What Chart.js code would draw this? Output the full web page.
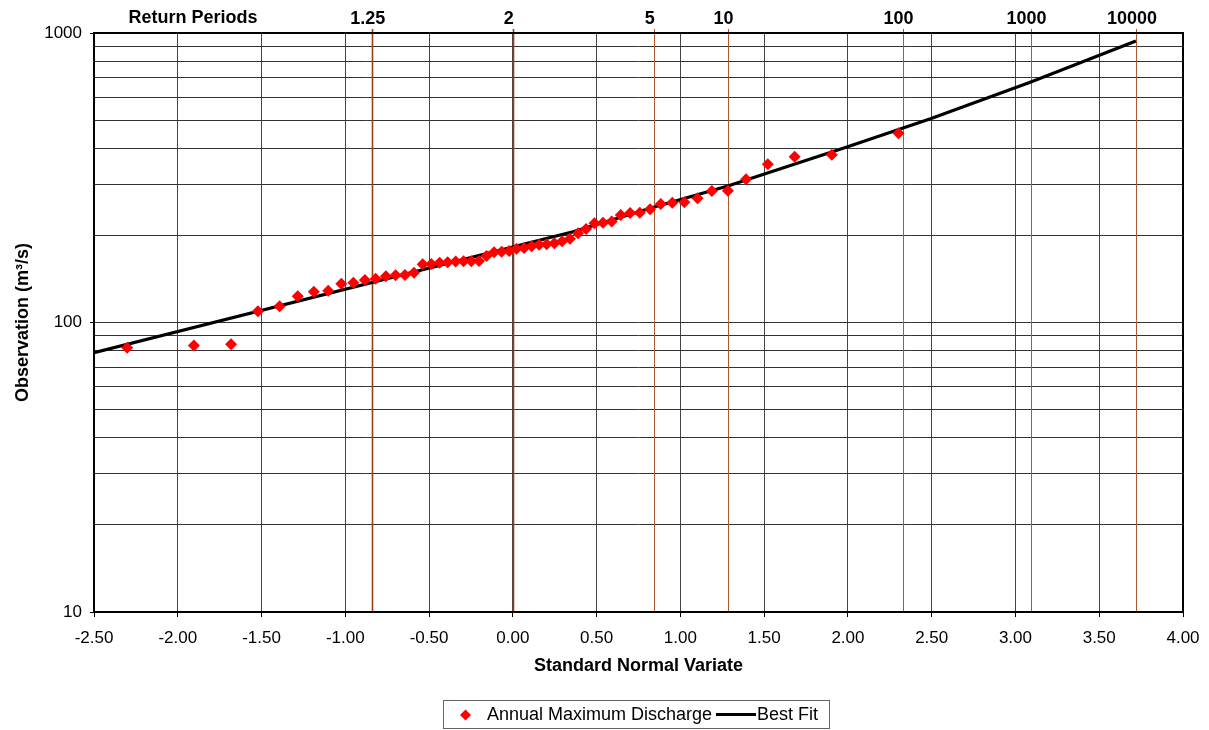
<!DOCTYPE html>
<html>
<head>
<meta charset="utf-8">
<script src="https://cdn.jsdelivr.net/npm/chart.js@4.4.0/dist/chart.umd.min.js"></script>
<style>
html,body{margin:0;padding:0;background:#fff;}
#wrap{width:1209px;height:730px;position:relative;}
</style>
</head>
<body>
<div id="wrap"><canvas id="c" width="1209" height="730"></canvas></div>
<script>
// ---- data ----
const seriesNames = ['Annual Maximum Discharge', 'Best Fit'];
const sampleZ = [-2.302,-1.904,-1.682,-1.522,-1.392,-1.284,-1.188,-1.102,-1.024,-0.952,-0.883,-0.819,-0.758,-0.700,-0.644,-0.590,-0.538,-0.487,-0.437,-0.389,-0.341,-0.294,-0.248,-0.202,-0.157,-0.112,-0.067,-0.022,
  0.022,0.067,0.112,0.157,0.202,0.248,0.294,0.341,0.389,0.437,0.487,0.538,0.590,0.644,0.700,0.758,0.819,0.883,0.952,1.024,1.102,1.188,1.284,1.392,1.522,1.682,1.904,2.302];
const sampleQ = [81.8,83.2,84.1,109.3,113.8,123.2,127.8,128.8,136.1,137.2,140.2,141.7,144.4,145.6,145.9,148.6,158.9,159.2,160.9,161.4,162.4,162.7,162.7,163.1,169.7,174.8,175.6,176.6,
  179.7,180.9,183.4,185.6,186.3,187.9,190.9,194.8,203.3,210.4,220.1,221.2,223.3,235.1,238.9,239.5,246.0,256.6,259.3,260.1,268.5,284.6,285.3,312.3,352.0,373.9,379.9,450.4];
const fitZ = [-2.5, 0.359, 0.84, 1.283, 1.994, 2.497, 3.088, 3.719];
const fitQ = [78.7, 205.9, 250.0, 296.1, 403.9, 506.6, 675.5, 938.0];
const returnPeriodLabels = ['1.25', '2', '5', '10', '100', '1000', '10000'];
const returnPeriodZ = [-0.8416, 0, 0.8416, 1.2816, 2.3263, 3.0902, 3.7190];
const xTickValues = [-2.5,-2,-1.5,-1,-0.5,0,0.5,1,1.5,2,2.5,3,3.5,4];
const yGridValues = [10,20,30,40,50,60,70,80,90,100,200,300,400,500,600,700,800,900,1000];
const yLabelValues = [10,100,1000];

const FONT = '"Liberation Sans", Arial, Helvetica, sans-serif';
Chart.defaults.font.family = FONT;
Chart.defaults.color = '#000';

const framePlugin = {
  id: 'frame',
  beforeDatasetsDraw(chart) {
    const {ctx, chartArea: a} = chart;
    const sx2 = chart.scales.x2;
    ctx.save();
    // return period lines through the top scale
    sx2.ticks.forEach((t, i) => {
      const px = Math.round(sx2.getPixelForValue(t.value));
      ctx.beginPath();
      if (i < 2) { ctx.strokeStyle = '#993D12'; ctx.lineWidth = 1.6; }
      else { ctx.strokeStyle = '#B0592A'; ctx.lineWidth = 1; }
      ctx.moveTo(px + 0.5, a.top - 4);
      ctx.lineTo(px + 0.5, a.bottom);
      ctx.stroke();
    });
    ctx.strokeStyle = '#000';
    ctx.lineWidth = 2;
    ctx.strokeRect(a.left, a.top, a.right - a.left, a.bottom - a.top);
    ctx.restore();
  },
  afterDraw(chart) {
    const ctx = chart.ctx;
    ctx.save();
    // "Return Periods" label
    ctx.font = 'bold 18px ' + FONT;
    ctx.fillStyle = '#000';
    ctx.textAlign = 'center';
    ctx.textBaseline = 'middle';
    ctx.fillText('Return Periods', 193, 18);
    // legend
    const ds = chart.data.datasets;
    ctx.strokeStyle = '#666';
    ctx.lineWidth = 1;
    ctx.strokeRect(443.5, 700.5, 386, 28);
    ctx.fillStyle = ds[0].backgroundColor;
    ctx.beginPath();
    ctx.moveTo(465.5, 709.5); ctx.lineTo(471, 715); ctx.lineTo(465.5, 720.5); ctx.lineTo(460, 715); ctx.closePath();
    ctx.fill();
    ctx.font = '18px ' + FONT;
    ctx.fillStyle = '#000';
    ctx.textAlign = 'left';
    ctx.fillText(ds[0].label, 487, 715);
    ctx.strokeStyle = ds[1].borderColor;
    ctx.lineWidth = 3;
    ctx.beginPath(); ctx.moveTo(716, 714.5); ctx.lineTo(756, 714.5); ctx.stroke();
    ctx.fillText(ds[1].label, 757, 715);
    ctx.restore();
  }
};

new Chart(document.getElementById('c'), {
  data: {
    datasets: [
      {
        type: 'scatter',
        label: seriesNames[0],
        data: sampleZ.map((z, i) => ({x: z, y: sampleQ[i]})),
        pointStyle: 'rectRot',
        pointRadius: 6,
        pointBorderWidth: 0,
        backgroundColor: '#FF0000',
        borderColor: '#FF0000',
        order: 1
      },
      {
        type: 'line',
        label: seriesNames[1],
        data: fitZ.map((z, i) => ({x: z, y: fitQ[i]})),
        borderColor: '#000',
        borderWidth: 3.2,
        pointRadius: 0,
        tension: 0,
        fill: false,
        order: 2
      }
    ]
  },
  options: {
    responsive: false,
    animation: false,
    devicePixelRatio: 1,
    layout: {padding: {left: 0, right: 26, top: 0, bottom: 50}},
    plugins: {legend: {display: false}, tooltip: {enabled: false}},
    scales: {
      x: {
        type: 'linear', position: 'bottom', min: -2.5, max: 4,
        afterBuildTicks: s => { s.ticks = xTickValues.map(v => ({value: v})); },
        afterFit: s => { s.height = 68; s.paddingLeft = 0; s.paddingRight = 0; },
        ticks: {callback: v => Number(v).toFixed(2), font: {size: 17}, color: '#000', padding: 11, maxRotation: 0, autoSkip: false},
        grid: {color: '#444', lineWidth: 1, tickLength: 5, tickColor: '#000'},
        border: {display: false},
        title: {display: true, text: 'Standard Normal Variate', font: {size: 18, weight: 'bold'}, color: '#000', padding: {top: 0, bottom: 3}}
      },
      x2: {
        type: 'linear', position: 'top', min: -2.5, max: 4,
        afterBuildTicks: s => { s.ticks = returnPeriodZ.map(v => ({value: v})); },
        afterFit: s => { s.height = 33; s.paddingLeft = 0; s.paddingRight = 0; },
        ticks: {callback: (v, i) => returnPeriodLabels[i], font: {size: 18, weight: 'bold'}, color: '#000', padding: -1, labelOffset: -4, maxRotation: 0, autoSkip: false},
        grid: {display: true, drawOnChartArea: false, drawTicks: true, tickLength: 4, color: 'rgba(0,0,0,0)'},
        border: {display: false}
      },
      y: {
        type: 'logarithmic', position: 'left', min: 10, max: 1000,
        afterBuildTicks: s => { s.ticks = yGridValues.map(v => ({value: v, major: yLabelValues.includes(v)})); },
        afterFit: s => { s.width = 94; s.paddingTop = 0; s.paddingBottom = 0; },
        ticks: {callback: v => yLabelValues.includes(v) ? String(v) : '', font: {size: 17}, color: '#000', padding: 8, autoSkip: false},
        grid: {color: '#333', lineWidth: 1, tickLength: 4,
               tickColor: c => (c.tick && yLabelValues.includes(c.tick.value)) ? '#000' : 'rgba(0,0,0,0)'},
        border: {display: false},
        title: {display: true, text: 'Observation (m³/s)', font: {size: 18, weight: 'bold'}, color: '#000', padding: {top: 12, bottom: 0}}
      }
    }
  },
  plugins: [framePlugin]
});
</script>
</body>
</html>
